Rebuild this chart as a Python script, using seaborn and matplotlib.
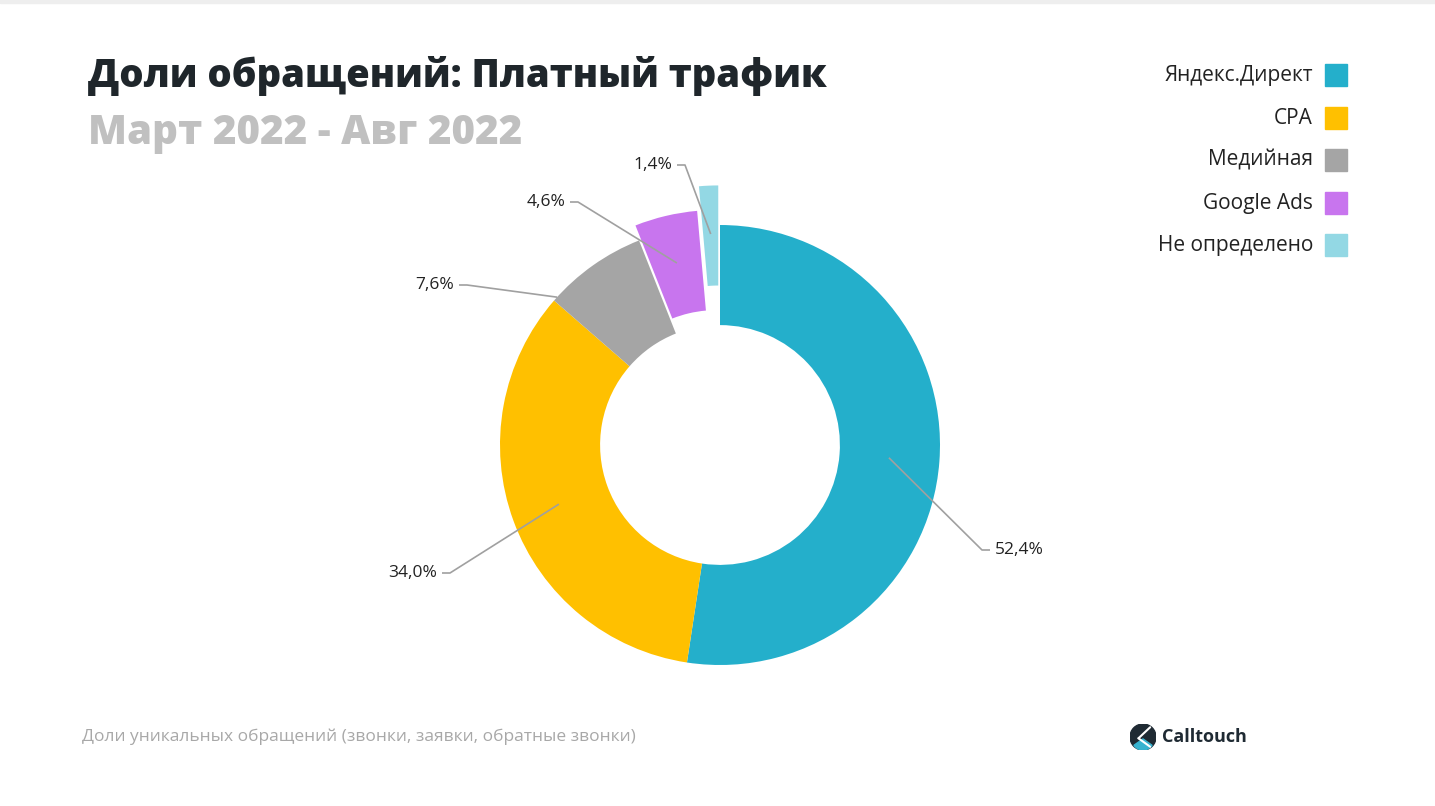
import numpy as np
import matplotlib
matplotlib.use('Agg')
import matplotlib.pyplot as plt
import seaborn as sns
from matplotlib.patches import Circle, Wedge, Rectangle

sns.set_theme(style='white')
plt.rcParams['font.family'] = ['Open Sans', 'DejaVu Sans']

# Данные
channels = ['Яндекс.Директ', 'CPA', 'Медийная', 'Google Ads', 'Не определено']
shares = [52.4, 34.0, 7.6, 4.6, 1.4]
share_labels = ['52,4%', '34,0%', '7,6%', '4,6%', '1,4%']
colors = sns.color_palette(['#24AFCB', '#FFC000', '#A5A5A5', '#C875EE', '#93D8E4'])
explode = [0, 0, 0, 0.07, 0.18]

# раскладка подписей: (радиус якоря, сдвиг угла, dx, dy в пикселях от центра, сторона)
label_layout = [
    (0.77, 0, 262, -105, 'left'),
    (0.78, 0, -270, -128, 'right'),
    (1.00, 12.5, -253, 160, 'right'),
    (0.78, 0, -142, 243, 'right'),
    (0.78, 0, -35, 280, 'right'),
]

W, H = 1435, 806
fig = plt.figure(figsize=(W / 100, H / 100), dpi=100)
fig.patch.set_facecolor('white')

# круг: центр (720, 445) px, радиус 220 px
cx, cy, R = 720, 445, 220
half = 300
ax = fig.add_axes([(cx - half) / W, (H - cy - half) / H, 2 * half / W, 2 * half / H])

wedges, _ = ax.pie(shares, colors=colors, startangle=90, counterclock=False,
                   explode=explode, radius=1.0,
                   wedgeprops=dict(width=0.455, linewidth=0))

lim = half / R
ax.set_xlim(-lim, lim)
ax.set_ylim(-lim, lim)
ax.set_aspect('equal')
ax.axis('off')

for w, lab, ex, (ra, da, dx, dy, side) in zip(wedges, share_labels, explode, label_layout):
    ang = np.deg2rad((w.theta1 + w.theta2) / 2 + da)
    r = ra + ex
    x0, y0 = r * np.cos(ang), r * np.sin(ang)
    ex_x, ex_y = dx / R, dy / R
    step = 8 / R if side == 'left' else -8 / R
    ax.plot([x0, ex_x, ex_x + step], [y0, ex_y, ex_y], color='#A0A0A0', lw=1.2,
            solid_capstyle='butt')
    ax.text(ex_x + step * 1.6, ex_y, lab, ha=side, va='center', fontsize=12.5,
            color='#222222')

# заголовки
fig.text(88 / W, 1 - 76 / H, 'Доли обращений: Платный трафик', fontsize=27.5,
         fontweight='heavy', color='#1F262B', va='center', ha='left')
fig.text(88 / W, 1 - 133 / H, 'Март 2022 - Авг 2022', fontsize=29,
         fontweight='heavy', color='#C0C0C0', va='center', ha='left')

# легенда
leg_y = [75, 118, 160, 203, 245]
for name, c, y in zip(channels, colors, leg_y):
    fig.text(1313 / W, 1 - y / H, name, fontsize=15, color='#222222',
             ha='right', va='center')
    fig.patches.append(Rectangle((1325 / W, 1 - (y + 11) / H), 22 / W, 22 / H,
                                 transform=fig.transFigure, color=c, figure=fig))

# подпись снизу
fig.text(82 / W, 1 - 737 / H,
         'Доли уникальных обращений (звонки, заявки, обратные звонки)',
         fontsize=12.5, color='#A8A8A8', ha='left', va='center')

# логотип
lax = fig.add_axes([(1130) / W, 1 - 750 / H, 26 / W, 26 / H])
lax.set_xlim(-1, 1)
lax.set_ylim(-1, 1)
lax.set_aspect('equal')
lax.axis('off')
lax.add_patch(Circle((0, 0), 1, color='#1F2A33'))
lax.add_patch(Wedge((0, -0.15), 0.85, 215, 325, color='#38B3D0'))
lax.plot([-0.35, 0.55], [-0.1, 0.75], color='white', lw=1.5)
lax.plot([-0.35, 0.55], [-0.1, -0.75], color='white', lw=1.5)
fig.text(1162 / W, 1 - 737 / H, 'Calltouch', fontsize=13, fontweight='bold',
         color='#1F2A33', ha='left', va='center')

# тонкая линия сверху
fig.patches.append(Rectangle((0, 1 - 3 / H), 1, 3 / H, transform=fig.transFigure,
                             color='#EEEEEE', figure=fig))

fig.savefig('out.png', dpi=100, facecolor='white')
